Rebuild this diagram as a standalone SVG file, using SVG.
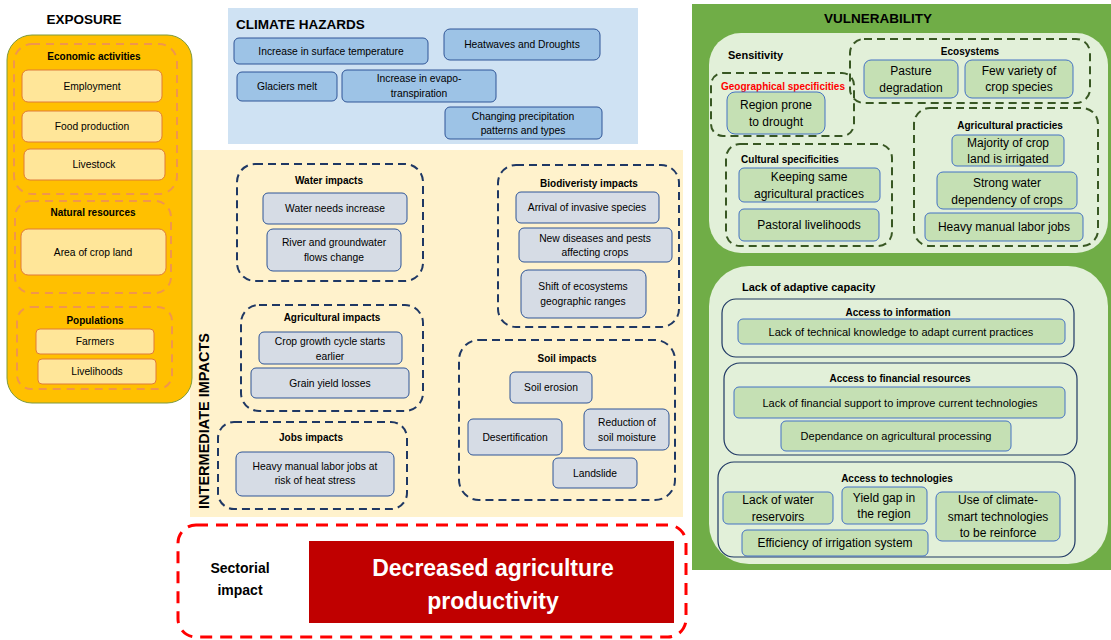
<svg xmlns="http://www.w3.org/2000/svg" width="1111" height="640" viewBox="0 0 1111 640">
  <style>
    text { font-family: "Liberation Sans", Arial, sans-serif; fill: #000; }
    .c { text-anchor: middle; }
    .t10 { font-size: 10.3px; }
    .t11 { font-size: 11px; }
    .t12 { font-size: 12px; }
    .b { font-weight: bold; }
    .title { font-size: 13.5px; font-weight: bold; }
    .gt { font-size: 10px; font-weight: bold; }
    .exp-node { fill: #FFE699; stroke: #E07B39; stroke-width: 1; }
    .exp-grp { fill: none; stroke: #F0964C; stroke-width: 2; stroke-dasharray: 8 6; }
    .haz-node { fill: #9DC3E6; stroke: #2F5597; stroke-width: 1; }
    .imp-node { fill: #D6DCE5; stroke: #2F5597; stroke-width: 1; }
    .imp-grp { fill: none; stroke: #1F3864; stroke-width: 2; stroke-dasharray: 8 5; }
    .vul-node { fill: #C5E0B4; stroke: #4472C4; stroke-width: 1; }
    .vul-grp { fill: none; stroke: #385723; stroke-width: 2; stroke-dasharray: 8 5; }
    .cap-grp { fill: none; stroke: #1F3864; stroke-width: 1.2; }
  </style>

  <rect width="1111" height="640" fill="#FFFFFF"/>

  <!-- Panels -->
  <g id="hazards-panel">
    <rect x="228" y="8" width="410" height="136" fill="#CFE2F3"/>
    <text x="236" y="29" class="title">CLIMATE HAZARDS</text>
  </g>
  <g id="impacts-panel">
    <rect x="190" y="150" width="493" height="367" fill="#FFF2CC"/>
    <text transform="translate(209,421) rotate(-90)" class="c b" style="font-size:14.5px">INTERMEDIATE IMPACTS</text>
  </g>
  <g id="vulnerability-panel">
    <rect x="692" y="4" width="419" height="566" fill="#70AD47"/>
    <text x="878" y="23" class="c title">VULNERABILITY</text>
    <rect x="709" y="33" width="399" height="220" rx="32" fill="#E2F0D9"/>
    <text x="728" y="59" class="t11 b">Sensitivity</text>
    <rect x="709" y="266" width="399" height="298" rx="40" fill="#E2F0D9"/>
    <text x="742" y="291" class="t11 b">Lack of adaptive capacity</text>
  </g>

  <!-- Exposure -->
  <g id="exposure">
    <text x="84" y="24" class="c title">EXPOSURE</text>
    <rect x="7" y="35" width="185" height="368" rx="25" fill="#FFC000" stroke="#7E9A3A" stroke-width="1"/>
    <g id="economic-activities">
      <rect x="14" y="44" width="163" height="150" rx="18" class="exp-grp"/>
      <text x="94" y="60" class="c gt">Economic activities</text>
      <g id="employment"><rect x="22" y="70" width="140" height="32" rx="6" class="exp-node"/><text x="92" y="90" class="c t10">Employment</text></g>
      <g id="food-production"><rect x="22" y="111" width="140" height="31" rx="6" class="exp-node"/><text x="92" y="130" class="c t10">Food production</text></g>
      <g id="livestock"><rect x="24" y="149" width="141" height="31" rx="6" class="exp-node"/><text x="94" y="168" class="c t10">Livestock</text></g>
    </g>
    <g id="natural-resources">
      <rect x="15" y="201" width="156" height="92" rx="16" class="exp-grp"/>
      <text x="93" y="216" class="c gt">Natural resources</text>
      <g id="crop-land"><rect x="21" y="229" width="145" height="46" rx="7" class="exp-node"/><text x="93" y="256" class="c t10">Area of crop land</text></g>
    </g>
    <g id="populations">
      <rect x="17" y="307" width="155" height="82" rx="14" class="exp-grp"/>
      <text x="95" y="324" class="c gt">Populations</text>
      <g id="farmers"><rect x="36" y="329" width="118" height="25" rx="4" class="exp-node"/><text x="95" y="345" class="c t10">Farmers</text></g>
      <g id="livelihoods"><rect x="38" y="359" width="118" height="25" rx="4" class="exp-node"/><text x="97" y="375" class="c t10">Livelihoods</text></g>
    </g>
  </g>

  <!-- Climate hazards -->
  <g id="surface-temperature"><rect x="234" y="38" width="194" height="26" rx="5" class="haz-node"/><text x="331" y="55" class="c t10">Increase in surface temperature</text></g>
  <g id="heatwaves"><rect x="444" y="29" width="156" height="31" rx="6" class="haz-node"/><text x="522" y="48" class="c t10">Heatwaves and Droughts</text></g>
  <g id="glaciers"><rect x="237" y="72" width="100" height="29" rx="5" class="haz-node"/><text x="287" y="90" class="c t10">Glaciers melt</text></g>
  <g id="evapotranspiration"><rect x="342" y="70" width="154" height="32" rx="5" class="haz-node"/><text x="419" y="82" class="c t10">Increase in evapo-</text><text x="419" y="97" class="c t10">transpiration</text></g>
  <g id="precipitation"><rect x="445" y="107" width="157" height="32" rx="5" class="haz-node"/><text x="523" y="120" class="c t10">Changing precipitation</text><text x="523" y="134" class="c t10">patterns and types</text></g>

  <!-- Intermediate impacts -->
  <g id="water-impacts">
    <rect x="237" y="164" width="186" height="117" rx="18" class="imp-grp"/>
    <text x="329" y="184" class="c gt">Water impacts</text>
    <g id="water-needs"><rect x="263" y="193" width="144" height="31" rx="5" class="imp-node"/><text x="335" y="212" class="c t10">Water needs increase</text></g>
    <g id="river-flows"><rect x="267" y="229" width="134" height="42" rx="6" class="imp-node"/><text x="334" y="246" class="c t10">River and groundwater</text><text x="334" y="261" class="c t10">flows change</text></g>
  </g>
  <g id="agricultural-impacts">
    <rect x="241" y="305" width="182" height="106" rx="18" class="imp-grp"/>
    <text x="332" y="321" class="c gt">Agricultural impacts</text>
    <g id="crop-cycle"><rect x="259" y="332" width="143" height="32" rx="5" class="imp-node"/><text x="330" y="345" class="c t10">Crop growth cycle starts</text><text x="330" y="360" class="c t10">earlier</text></g>
    <g id="grain-yield"><rect x="251" y="368" width="158" height="30" rx="5" class="imp-node"/><text x="330" y="387" class="c t10">Grain yield losses</text></g>
  </g>
  <g id="jobs-impacts">
    <rect x="218" y="422" width="189" height="87" rx="16" class="imp-grp"/>
    <text x="311" y="441" class="c gt">Jobs impacts</text>
    <g id="heat-stress"><rect x="236" y="452" width="158" height="44" rx="6" class="imp-node"/><text x="315" y="470" class="c t10">Heavy manual labor jobs at</text><text x="315" y="484" class="c t10">risk of heat stress</text></g>
  </g>
  <g id="biodiversity-impacts">
    <rect x="498" y="165" width="181" height="162" rx="18" class="imp-grp"/>
    <text x="589" y="187" class="c gt">Biodiveristy impacts</text>
    <g id="invasive-species"><rect x="516" y="192" width="143" height="31" rx="5" class="imp-node"/><text x="587" y="211" class="c t10">Arrival of invasive species</text></g>
    <g id="diseases-pests"><rect x="519" y="228" width="153" height="34" rx="5" class="imp-node"/><text x="595" y="242" class="c t10">New diseases and pests</text><text x="595" y="256" class="c t10">affecting crops</text></g>
    <g id="ecosystem-shift"><rect x="521" y="270" width="125" height="48" rx="7" class="imp-node"/><text x="583" y="290" class="c t10">Shift of ecosystems</text><text x="583" y="305" class="c t10">geographic ranges</text></g>
  </g>
  <g id="soil-impacts">
    <rect x="459" y="340" width="216" height="160" rx="20" class="imp-grp"/>
    <text x="567" y="362" class="c gt">Soil impacts</text>
    <g id="soil-erosion"><rect x="510" y="372" width="82" height="31" rx="5" class="imp-node"/><text x="551" y="391" class="c t10">Soil erosion</text></g>
    <g id="desertification"><rect x="468" y="419" width="94" height="36" rx="5" class="imp-node"/><text x="515" y="441" class="c t10">Desertification</text></g>
    <g id="soil-moisture"><rect x="584" y="409" width="85" height="41" rx="6" class="imp-node"/><text x="627" y="426" class="c t10">Reduction of</text><text x="627" y="441" class="c t10">soil moisture</text></g>
    <g id="landslide"><rect x="553" y="458" width="84" height="30" rx="5" class="imp-node"/><text x="595" y="477" class="c t10">Landslide</text></g>
  </g>

  <!-- Sensitivity -->
  <g id="ecosystems">
    <rect x="850" y="39" width="240" height="64" rx="14" class="vul-grp"/>
    <text x="970" y="55" class="c gt">Ecosystems</text>
    <g id="pasture"><rect x="864" y="60" width="94" height="38" rx="7" class="vul-node"/><text x="911" y="75" class="c t12">Pasture</text><text x="911" y="92" class="c t12">degradation</text></g>
    <g id="crop-variety"><rect x="965" y="60" width="108" height="38" rx="7" class="vul-node"/><text x="1019" y="75" class="c t12">Few variety of</text><text x="1019" y="91" class="c t12">crop species</text></g>
  </g>
  <g id="geographical">
    <rect x="711" y="73" width="143" height="63" rx="12" class="vul-grp"/>
    <text x="783" y="90" class="c gt" style="fill:#FF0000">Geographical specificities</text>
    <g id="drought-prone"><rect x="727" y="92" width="98" height="42" rx="8" class="vul-node"/><text x="776" y="109" class="c t12">Region prone</text><text x="776" y="126" class="c t12">to drought</text></g>
  </g>
  <g id="cultural">
    <rect x="726" y="144" width="166" height="102" rx="14" class="vul-grp"/>
    <text x="790" y="163" class="c gt">Cultural specificities</text>
    <g id="same-practices"><rect x="739" y="168" width="141" height="34" rx="5" class="vul-node"/><text x="809" y="181" class="c t12">Keeping same</text><text x="809" y="198" class="c t12">agricultural practices</text></g>
    <g id="pastoral"><rect x="739" y="209" width="140" height="32" rx="5" class="vul-node"/><text x="809" y="229" class="c t12">Pastoral livelihoods</text></g>
  </g>
  <g id="agricultural-practices">
    <rect x="914" y="108" width="184" height="138" rx="16" class="vul-grp"/>
    <text x="1010" y="129" class="c gt">Agricultural practicies</text>
    <g id="irrigated"><rect x="952" y="135" width="112" height="31" rx="5" class="vul-node"/><text x="1008" y="147" class="c t12">Majority of crop</text><text x="1008" y="163" class="c t12">land is irrigated</text></g>
    <g id="water-dependency"><rect x="937" y="172" width="140" height="37" rx="6" class="vul-node"/><text x="1007" y="187" class="c t12">Strong water</text><text x="1007" y="204" class="c t12">dependency of crops</text></g>
    <g id="manual-labor"><rect x="925" y="213" width="158" height="28" rx="5" class="vul-node"/><text x="1004" y="231" class="c t12">Heavy manual labor jobs</text></g>
  </g>

  <!-- Lack of adaptive capacity -->
  <g id="information">
    <rect x="722" y="299" width="352" height="58" rx="14" class="cap-grp"/>
    <text x="898" y="316" class="c gt">Access to information</text>
    <g id="technical-knowledge"><rect x="738" y="319" width="327" height="25" rx="5" class="vul-node"/><text x="901" y="336" class="c t11">Lack of technical knowledge to adapt current practices</text></g>
  </g>
  <g id="financial">
    <rect x="724" y="363" width="353" height="92" rx="16" class="cap-grp"/>
    <text x="900" y="382" class="c gt">Access to financial resources</text>
    <g id="financial-support"><rect x="734" y="387" width="331" height="31" rx="5" class="vul-node"/><text x="900" y="407" class="c t11">Lack of financial support to improve current technologies</text></g>
    <g id="processing"><rect x="781" y="421" width="230" height="30" rx="5" class="vul-node"/><text x="896" y="440" class="c t11">Dependance on agricultural processing</text></g>
  </g>
  <g id="technologies">
    <rect x="718" y="462" width="357" height="95" rx="16" class="cap-grp"/>
    <text x="897" y="482" class="c gt">Access to technologies</text>
    <g id="reservoirs"><rect x="723" y="492" width="110" height="32" rx="5" class="vul-node"/><text x="778" y="504" class="c t12">Lack of water</text><text x="778" y="521" class="c t12">reservoirs</text></g>
    <g id="yield-gap"><rect x="842" y="487" width="85" height="37" rx="5" class="vul-node"/><text x="884" y="502" class="c t12">Yield gap in</text><text x="884" y="518" class="c t12">the region</text></g>
    <g id="climate-smart"><rect x="936" y="492" width="124" height="49" rx="6" class="vul-node"/><text x="998" y="504" class="c t12">Use of climate-</text><text x="998" y="521" class="c t12">smart technologies</text><text x="998" y="537" class="c t12">to be reinforce</text></g>
    <g id="irrigation"><rect x="742" y="530" width="186" height="26" rx="5" class="vul-node"/><text x="835" y="547" class="c t12">Efficiency of irrigation system</text></g>
  </g>

  <!-- Sectorial impact -->
  <g id="sectorial-impact">
    <rect x="178" y="525" width="508" height="112" rx="18" fill="none" stroke="#FF0000" stroke-width="3" stroke-dasharray="12 8"/>
    <text x="240" y="573" class="c b" style="font-size:14px">Sectorial</text>
    <text x="240" y="595" class="c b" style="font-size:14px">impact</text>
    <rect x="309" y="541" width="365" height="82" fill="#C00000"/>
    <text x="493" y="576" class="c b" style="font-size:23px;fill:#FFFFFF">Decreased agriculture</text>
    <text x="493" y="609" class="c b" style="font-size:23px;fill:#FFFFFF">productivity</text>
  </g>

  <g id="connectors"/>
</svg>
